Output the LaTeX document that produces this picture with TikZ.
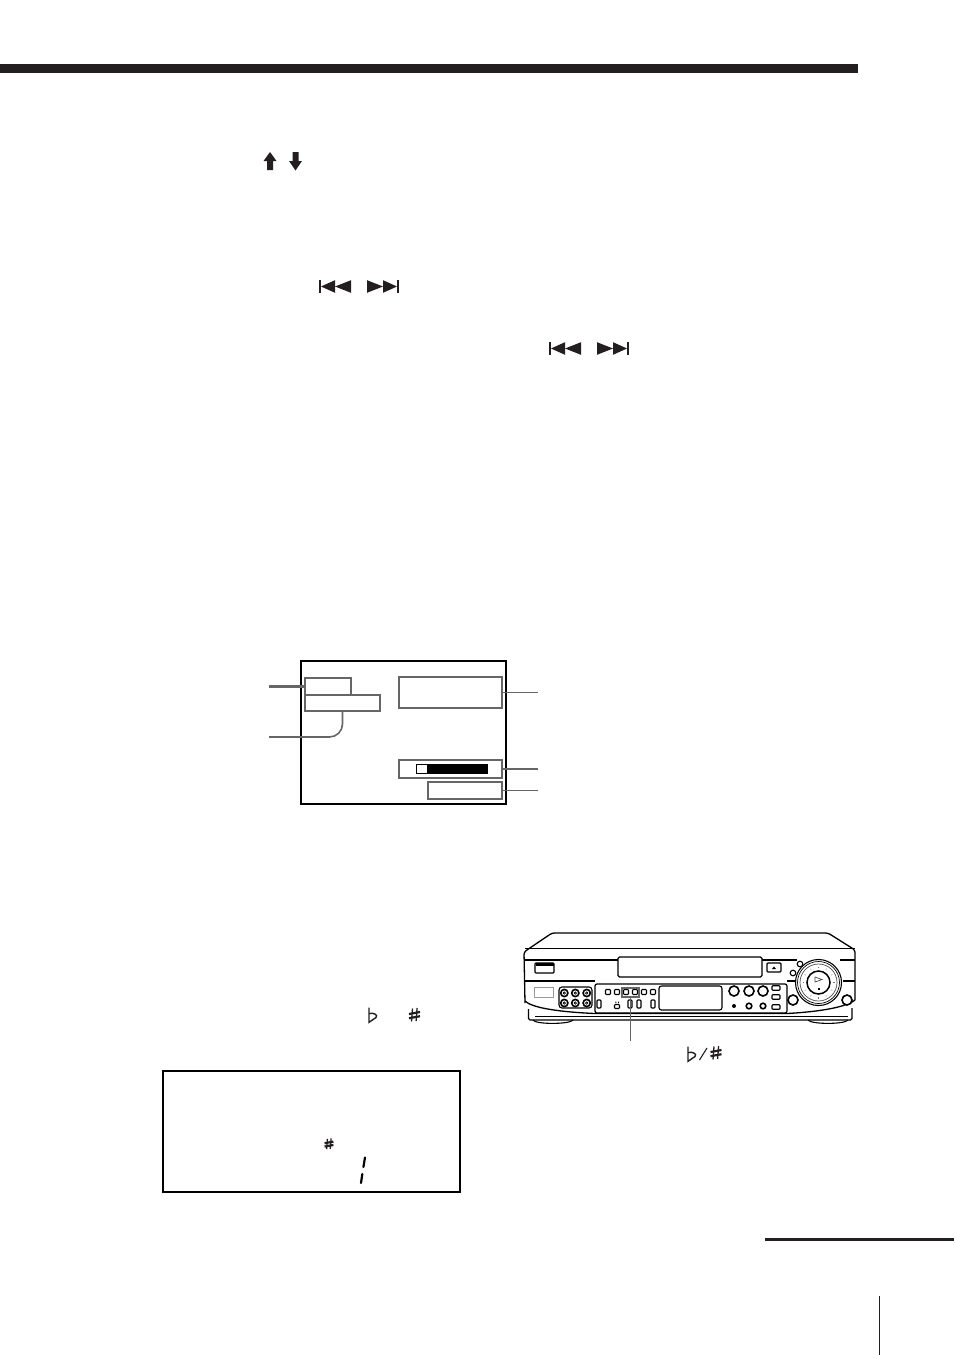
\documentclass[tikz,border=0pt]{standalone}
\usetikzlibrary{calc}
\definecolor{lead}{HTML}{666666}
\definecolor{ink}{HTML}{231F20}
\tikzset{
  screenbox/.style={draw=lead,line width=1.9pt,fill=none,rectangle,inner sep=0pt,outer sep=0pt},
  framebox/.style={draw=black,line width=2.2pt,fill=white,rectangle,inner sep=0pt,outer sep=0pt},
  leader/.style={draw=lead,line width=1.6pt},
  vcr/.style={draw=black,line width=1.1pt},
  vcrthin/.style={draw=black,line width=.7pt},
  btn/.style={draw=black,line width=1.1pt,fill=white,rectangle,rounded corners=.8pt,inner sep=0pt,outer sep=0pt},
  knob/.style={draw=black,line width=1.6pt,fill=white},
  pics/skipback/.style={code={
    \fill[ink] (0,-6.5) rectangle (2.4,6.5);
    \fill[ink] (2,0) -- (16,-6.3) -- (16,6.3) -- cycle;
    \fill[ink] (16,0) -- (32,-6.3) -- (32,6.3) -- cycle;
  }},
  pics/skipfwd/.style={code={
    \fill[ink] (29.6,-6.5) rectangle (32,6.5);
    \fill[ink] (30,0) -- (16,-6.3) -- (16,6.3) -- cycle;
    \fill[ink] (16,0) -- (0,-6.3) -- (0,6.3) -- cycle;
  }},
  pics/flatsign/.style={code={
    \draw[ink,line width=1.4pt] (-4,-7.5) -- (-4,7.3) -- (3,2.5) .. controls (5,0) and (1.5,-2.5) .. (-4,-1.5);
  }},
  pics/sharpsign/.style={code={
    \draw[ink,line width=1.3pt] (-2,-6.5) -- (-3,6.5) (2.6,-7) -- (1.6,6);
    \draw[ink,line width=2.2pt] (-5.5,-1) -- (5.5,-3) (-5.5,3.2) -- (5.5,1.2);
  }}
}
\begin{document}
\begin{tikzpicture}[x=1pt,y=-1pt]
\useasboundingbox (0,0) rectangle (954,1355);
% page furniture
\fill[ink] (0,64) rectangle (858,73);
\fill[ink] (765,1238) rectangle (954,1240.5);
\fill[ink] (878.5,1296) rectangle (879.7,1355);
% arrows in text
\fill[ink] (270,152) -- (276.5,161) -- (273,161) -- (273,170) -- (267,170) -- (267,161) -- (263.5,161) -- cycle;
\fill[ink] (295.5,170.5) -- (302,161) -- (298.5,161) -- (298.5,152) -- (292.5,152) -- (292.5,161) -- (289,161) -- cycle;
\pic at (319,286.5) {skipback};
\pic at (367,286.5) {skipfwd};
\pic at (549,348.5) {skipback};
\pic at (597,348.5) {skipfwd};
% screen
\node[framebox,minimum width=205,minimum height=143] (screen) at (403.5,732.5) {};
\node[screenbox,minimum width=46,minimum height=17] (boxa) at (328,686.5) {};
\node[screenbox,minimum width=75,minimum height=16] (boxb) at (342.5,703) {};
\node[screenbox,minimum width=103,minimum height=31,line width=2.2pt] (boxc) at (450.5,692.5) {};
\node[screenbox,minimum width=103,minimum height=18] (boxd) at (450.5,769) {};
\node[screenbox,minimum width=74,minimum height=17] (boxe) at (465,790.5) {};
\fill[black] (416,764) rectangle (488,774);
\fill[white] (417,765) rectangle (427,773);
\coordinate (enda) at (269,686.5);
\coordinate (endb) at (269,737);
\coordinate (endc) at (538,692.5);
\coordinate (endd) at (538,769);
\coordinate (ende) at (538,790.5);
\draw[leader,line width=2.6pt] (enda) -- (boxa.west);
\draw[leader,rounded corners=13pt] (boxb.south) -- ++(0,26) -- (endb);
\draw[leader] (boxc.east) -- (endc);
\draw[leader] (boxd.east) -- (endd);
\draw[leader] (boxe.east) -- (ende);
% text symbols
\pic at (373,1015) {flatsign};
\pic at (414.5,1015) {sharpsign};
\pic at (692,1054) {flatsign};
\draw[ink,line width=1.1pt] (699.5,1060) -- (707,1048);
\pic at (716,1053) {sharpsign};
% LCD panel
\node[framebox,minimum width=297,minimum height=121] (lcd) at (311.5,1131.5) {};
\pic[scale=.8] at (329,1144) {sharpsign};
\draw[black,line width=2.2pt,line cap=round] (365,1157.5) -- (363.4,1167);
\draw[black,line width=2.2pt,line cap=round] (362.3,1174) -- (361,1183);
% VCR body
\draw[vcr,line width=1.3pt,rounded corners=2.5pt] (525,1003) -- (524,952) -- (552,933) -- (828,933) -- (855,950) -- (855,1000);
\draw[vcr] (525,948.5) -- (855,948.5);
\draw[vcr] (525,960) -- (618,960) (762,960) -- (797,960) (840,960) -- (855,960);
\draw[vcr] (525,981) -- (595,981) (787,981) -- (796,981) (843,981) -- (855,981);
\draw[vcr,line width=1.3pt] (525,1001) .. controls (532,1008) and (560,1012) .. (595,1013.5) -- (787,1013.5) .. controls (815,1012) and (845,1008) .. (855,1000);
\draw[vcr,line width=1.3pt,rounded corners=1.5pt] (528.5,1009) -- (528.5,1020) -- (852,1020) -- (852,1008);
\draw[vcr,line width=1.8pt] (535,1016.5) -- (848,1016.5);
\draw[vcr] (533,1020) .. controls (535,1024.5) and (570,1024.5) .. (573,1020);
\draw[vcr] (808,1020) .. controls (811,1024.5) and (845,1024.5) .. (848,1020);
% door, eject, flap
\draw[vcr,rounded corners=1.5pt,fill=white,line width=1.2pt] (618,957) rectangle (762,977);
\draw[vcr,rounded corners=1pt] (767,963) rectangle (781,972);
\fill[black] (772,969) -- (776,969) -- (774,966.5) -- cycle;
\draw[vcr,rounded corners=1pt,line width=1.2pt] (535,963) rectangle (554,973);
\fill[black] (535.5,963) rectangle (553.5,966);
\draw[draw=black!40,line width=.8pt] (534,987) rectangle (553,997);
% jacks
\draw[vcr,rounded corners=3pt] (559,987) rectangle (592,1008);
\foreach \jx/\jy in {564.3/993,575.3/993,586.7/993,564.3/1003,575.3/1003,586.7/1003}{
  \draw[knob] (\jx,\jy) circle (3.6);
  \draw[vcrthin] (\jx,\jy) circle (1.2);
}
% control panel
\draw[vcr,rounded corners=2pt,line width=1.2pt] (595,984) rectangle (787,1013);
\draw[vcr,rounded corners=2.5pt] (659,986) rectangle (722,1010);
\foreach \bx in {608,617,626,635,644,653}{
  \node[btn,minimum width=5,minimum height=5] at (\bx,992) {};
}
\foreach \bx/\bh in {599/8,639/8,653/8}{
  \node[btn,minimum width=4,minimum height=\bh] at (\bx,1004) {};
}
\node[btn,minimum width=5,minimum height=4] at (617,1006.5) {};
\fill[black] (615.3,1001.5) rectangle (616.3,1003) (618,1001.5) rectangle (619,1003);
\node[btn,minimum width=4,minimum height=8] at (630,1004) {};
\foreach \kx in {734,749,763}{ \draw[knob] (\kx,991) circle (5); }
\fill[black] (734,1006) circle (2);
\foreach \kx in {749,763}{ \draw[knob] (\kx,1006) circle (2.8); }
\foreach \ky in {988,997,1007}{
  \node[btn,minimum width=8,minimum height=4.5] at (776,\ky) {};
}
% highlight and its leader
\node[draw=lead,line width=1.5pt,fill=none,rectangle,inner sep=0pt,outer sep=0pt,minimum width=17,minimum height=9] (hilite) at (630.5,992.5) {};
\coordinate (endv) at (630.5,1041);
\draw[leader,line width=1.3pt] (hilite.south) -- (endv);
% wheel
\draw[vcr,fill=white] (818.5,982.5) circle (23);
\draw[vcrthin] (818.5,982.5) circle (21);
\draw[vcrthin,draw=black!70] (818.5,982.5) circle (18.5);
\draw[vcr,line width=1.5pt] (818.5,982.5) circle (11.5);
\foreach \a in {0,30,...,330}{
  \draw[black!55,line width=.4pt] ($(818.5,982.5)+(\a:14.5)$) -- ($(818.5,982.5)+(\a:16)$);
}
\draw[vcrthin,draw=black!70] (815,977) -- (822,979.5) -- (815,982) -- cycle;
\fill[black] (817.5,987.5) rectangle (820,990);
\draw[knob,line width=1.1pt] (800,964) circle (2.8);
\draw[knob,line width=1.1pt] (793,973) circle (2.8);
\draw[knob] (793,1000) circle (5);
\draw[knob] (847,1000) circle (5);
\end{tikzpicture}
\end{document}
